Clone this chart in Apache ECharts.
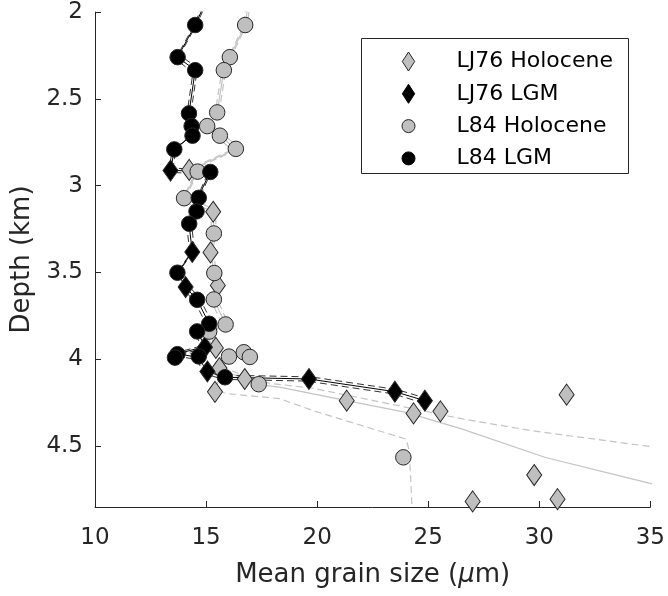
<!DOCTYPE html>
<html>
<head>
<meta charset="utf-8">
<script src="https://cdn.jsdelivr.net/npm/echarts@6/dist/echarts.min.js"></script>
<style>
html, body { margin: 0; padding: 0; background: #ffffff; }
#chart { width: 668px; height: 596px; }
</style>
</head>
<body>
<div id="chart"></div>
<script>
// ---- Sample measurements: mean grain size (µm) against water depth (km) ----
var lj76HoloceneSize  = [14.24, 15.32, 15.20, 15.53, 15.44, 15.60, 16.74, 15.40, 31.23, 21.33, 25.55, 24.34, 29.77, 30.82, 27.00];
var lj76HoloceneDepth = [2.909, 3.150, 3.384, 3.574, 3.934, 4.050, 4.113, 4.187, 4.203, 4.238, 4.299, 4.311, 4.666, 4.805, 4.818];

var lj76LgmSize  = [13.40, 14.38, 14.08, 14.95, 15.06, 19.63, 23.50, 24.85];
var lj76LgmDepth = [2.913, 3.382, 3.584, 3.930, 4.070, 4.113, 4.186, 4.238];

var l84HoloceneSize  = [16.76, 16.07, 15.80, 15.50, 15.05, 15.62, 16.34, 14.62, 14.01, 15.35, 15.37, 15.35, 15.88, 15.14, 16.70, 16.03, 16.97, 17.37, 23.88];
var l84HoloceneDepth = [2.075, 2.260, 2.335, 2.578, 2.657, 2.712, 2.788, 2.919, 3.072, 3.275, 3.503, 3.655, 3.799, 3.840, 3.959, 3.984, 3.986, 4.143, 4.564];

var l84LgmSize  = [14.51, 13.72, 14.51, 14.23, 14.35, 14.39, 13.57, 15.19, 14.67, 14.57, 14.24, 13.71, 14.60, 15.14, 14.60, 13.71, 13.60, 14.67, 15.85];
var l84LgmDepth = [2.075, 2.260, 2.335, 2.584, 2.657, 2.712, 2.791, 2.921, 3.070, 3.148, 3.219, 3.501, 3.657, 3.795, 3.839, 3.970, 3.990, 3.983, 4.103];

// ---- Depth profiles: LGM (black) and Holocene (grey), central curve with its two bounds ----
var lgmProfileDepth = [1.950, 2.075, 2.260, 2.335, 2.584, 2.657, 2.709, 2.790, 2.911, 2.921, 3.069, 3.148, 3.219, 3.382, 3.501, 3.584, 3.657, 3.795, 3.838, 3.926, 3.968, 3.988, 4.070, 4.103, 4.113, 4.186, 4.238];
var lgmProfileSize  = [14.95, 14.51, 13.72, 14.51, 14.23, 14.35, 14.38, 13.57, 13.41, 15.17, 14.65, 14.57, 14.23, 14.38, 13.71, 14.08, 14.60, 15.14, 14.60, 14.95, 13.71, 14.65, 15.05, 15.85, 19.63, 23.50, 24.85];
var lgmUpperDepth = [1.938, 2.063, 2.248, 2.323, 2.572, 2.645, 2.697, 2.778, 2.899, 2.909, 3.057, 3.136, 3.207, 3.370, 3.489, 3.572, 3.645, 3.783, 3.826, 3.914, 3.956, 3.976, 4.058, 4.091, 4.101, 4.174, 4.226];
var lgmUpperSize  = [15.05, 14.61, 13.82, 14.61, 14.33, 14.45, 14.48, 13.67, 13.51, 15.27, 14.75, 14.67, 14.33, 14.48, 13.81, 14.18, 14.70, 15.24, 14.70, 15.05, 13.81, 14.75, 15.15, 15.95, 19.73, 23.60, 24.95];
var lgmLowerDepth = [1.962, 2.087, 2.272, 2.347, 2.596, 2.669, 2.721, 2.802, 2.923, 2.933, 3.081, 3.160, 3.231, 3.394, 3.513, 3.596, 3.669, 3.807, 3.850, 3.938, 3.980, 4.000, 4.082, 4.115, 4.125, 4.198, 4.250];
var lgmLowerSize  = [14.85, 14.41, 13.62, 14.41, 14.13, 14.25, 14.28, 13.47, 13.31, 15.07, 14.55, 14.47, 14.13, 14.28, 13.61, 13.98, 14.50, 15.04, 14.50, 14.85, 13.61, 14.55, 14.95, 15.75, 19.53, 23.40, 24.75];

var holProfileDepth = [1.950, 2.075, 2.260, 2.335, 2.578, 2.657, 2.709, 2.790, 2.911, 2.921, 3.073, 3.153, 3.276, 3.386, 3.503, 3.574, 3.655, 3.799, 3.840, 3.934, 3.984, 4.055, 4.113, 4.145, 4.160, 4.238, 4.305, 4.400, 4.565, 4.714, 4.750];
var holProfileSize  = [16.90, 16.76, 16.07, 15.80, 15.50, 15.05, 15.62, 16.33, 14.23, 14.60, 14.00, 15.32, 15.35, 15.20, 15.37, 15.53, 15.35, 15.88, 15.14, 15.44, 16.04, 15.62, 16.74, 17.37, 18.30, 21.33, 24.00, 26.50, 30.28, 34.99, 36.00];
var holUpperDepth = [1.938, 2.063, 2.248, 2.323, 2.566, 2.645, 2.697, 2.778, 2.899, 2.909, 3.061, 3.141, 3.264, 3.374, 3.491, 3.562, 3.643, 3.787, 3.828, 3.922, 3.972, 4.043, 4.101, 4.138, 4.166, 4.276, 4.343, 4.411, 4.497, 4.505];
var holUpperSize  = [17.00, 16.86, 16.17, 15.90, 15.60, 15.15, 15.72, 16.43, 14.33, 14.70, 14.10, 15.42, 15.45, 15.30, 15.47, 15.63, 15.45, 15.98, 15.24, 15.54, 16.14, 15.72, 16.84, 17.87, 19.81, 24.00, 26.54, 29.68, 34.69, 35.20];
var holLowerDepth = [1.962, 2.087, 2.272, 2.347, 2.590, 2.669, 2.721, 2.802, 2.923, 2.933, 3.085, 3.165, 3.288, 3.398, 3.515, 3.586, 3.667, 3.811, 3.852, 3.946, 3.996, 4.067, 4.185, 4.199, 4.226, 4.295, 4.459, 4.526, 4.850, 4.950];
var holLowerSize  = [16.80, 16.66, 15.97, 15.70, 15.40, 14.95, 15.52, 16.23, 14.13, 14.50, 13.90, 15.22, 15.25, 15.10, 15.27, 15.43, 15.25, 15.78, 15.04, 15.34, 15.94, 15.52, 15.50, 16.08, 18.31, 19.81, 24.00, 24.15, 24.27, 24.30];

// ---- Axis ticks ----
var sizeTicks  = [10, 15, 20, 25, 30, 35];
var depthTicks = [2, 2.5, 3, 3.5, 4, 4.5];

var FONT = 'DejaVu Sans';
var AXIS_COLOR = '#262626';
var GREY = '#bfbfbf';
var PROFILE_GREY = '#c4c4c4';
var DIAMOND = 'path://M6.5,0L13,10L6.5,20L0,10Z';

function pairs(xs, ys) {
  return xs.map(function (x, i) { return [x, ys[i]]; });
}

function profile(xs, ys, color, width, dashed) {
  return {
    type: 'line',
    data: pairs(xs, ys),
    symbol: 'none',
    silent: true,
    clip: true,
    z: 1,
    lineStyle: { color: color, width: width, type: dashed ? [7, 4] : 'solid' }
  };
}

function markers(name, xs, ys, symbol, size, fill) {
  return {
    name: name,
    type: 'scatter',
    data: pairs(xs, ys),
    symbol: symbol,
    symbolSize: size,
    z: 3,
    itemStyle: { color: fill, borderColor: AXIS_COLOR, borderWidth: 1, opacity: 1 }
  };
}

var chart = echarts.init(document.getElementById('chart'), null, { renderer: 'canvas' });

chart.setOption({
  animation: false,
  backgroundColor: '#ffffff',
  textStyle: { fontFamily: FONT },
  grid: { left: 95, right: 16, top: 12, bottom: 89 },
  xAxis: {
    type: 'value',
    min: 10, max: 35, interval: 5,
    name: 'Mean grain size ({mu|μ}m)',
    nameLocation: 'middle',
    nameGap: 55,
    nameTextStyle: {
      fontFamily: FONT, fontSize: 26, color: AXIS_COLOR,
      rich: { mu: { fontFamily: FONT, fontSize: 26, fontStyle: 'italic', color: AXIS_COLOR } }
    },
    axisLine: { show: true, onZero: false, lineStyle: { color: AXIS_COLOR, width: 1 } },
    axisTick: { show: true, inside: true, length: 6, customValues: sizeTicks, lineStyle: { color: AXIS_COLOR, width: 1 } },
    axisLabel: { margin: 20, fontFamily: FONT, fontSize: 23, color: AXIS_COLOR, customValues: sizeTicks },
    splitLine: { show: false }
  },
  yAxis: {
    type: 'value',
    inverse: true,
    min: 2, max: 4.85, interval: 0.5,
    name: 'Depth (km)',
    nameLocation: 'middle',
    nameGap: 56,
    nameTextStyle: { fontFamily: FONT, fontSize: 26, color: AXIS_COLOR },
    axisLine: { show: true, onZero: false, lineStyle: { color: AXIS_COLOR, width: 1 } },
    axisTick: { show: true, inside: true, length: 6, customValues: depthTicks, lineStyle: { color: AXIS_COLOR, width: 1 } },
    axisLabel: { margin: 12, fontFamily: FONT, fontSize: 23, color: AXIS_COLOR, customValues: depthTicks },
    splitLine: { show: false }
  },
  legend: {
    orient: 'vertical',
    left: 401.5, top: 50.5,
    itemWidth: 13, itemHeight: 19, itemGap: 10.3,
    padding: 0,
    selectedMode: false,
    textStyle: { fontFamily: FONT, fontSize: 22, color: '#000000', padding: [0, 0, 0, 36.5] },
    data: [
      { name: 'LJ76 Holocene', icon: DIAMOND, itemStyle: { color: GREY, borderColor: AXIS_COLOR, borderWidth: 1 } },
      { name: 'LJ76 LGM', icon: DIAMOND, itemStyle: { color: '#000000', borderColor: '#000000', borderWidth: 1 } },
      { name: 'L84 Holocene', icon: 'circle', itemStyle: { color: GREY, borderColor: AXIS_COLOR, borderWidth: 1 } },
      { name: 'L84 LGM', icon: 'circle', itemStyle: { color: '#000000', borderColor: '#000000', borderWidth: 1 } }
    ]
  },
  graphic: [{
    type: 'rect',
    silent: true,
    z: 0,
    shape: { x: 361.5, y: 38.5, width: 267, height: 135 },
    style: { fill: '#ffffff', stroke: AXIS_COLOR, lineWidth: 1 }
  }],
  series: [
    profile(holUpperSize, holUpperDepth, PROFILE_GREY, 1.2, true),
    profile(holLowerSize, holLowerDepth, PROFILE_GREY, 1.2, true),
    profile(holProfileSize, holProfileDepth, PROFILE_GREY, 1.2, false),
    profile(lgmUpperSize, lgmUpperDepth, '#333333', 1, true),
    profile(lgmLowerSize, lgmLowerDepth, '#333333', 1, true),
    profile(lgmProfileSize, lgmProfileDepth, '#000000', 1, false),
    markers('LJ76 Holocene', lj76HoloceneSize, lj76HoloceneDepth, DIAMOND, [15, 21], GREY),
    markers('LJ76 LGM', lj76LgmSize, lj76LgmDepth, DIAMOND, [15, 21], '#000000'),
    markers('L84 Holocene', l84HoloceneSize, l84HoloceneDepth, 'circle', 15.5, GREY),
    markers('L84 LGM', l84LgmSize, l84LgmDepth, 'circle', 15.5, '#000000')
  ]
});
</script>
</body>
</html>
